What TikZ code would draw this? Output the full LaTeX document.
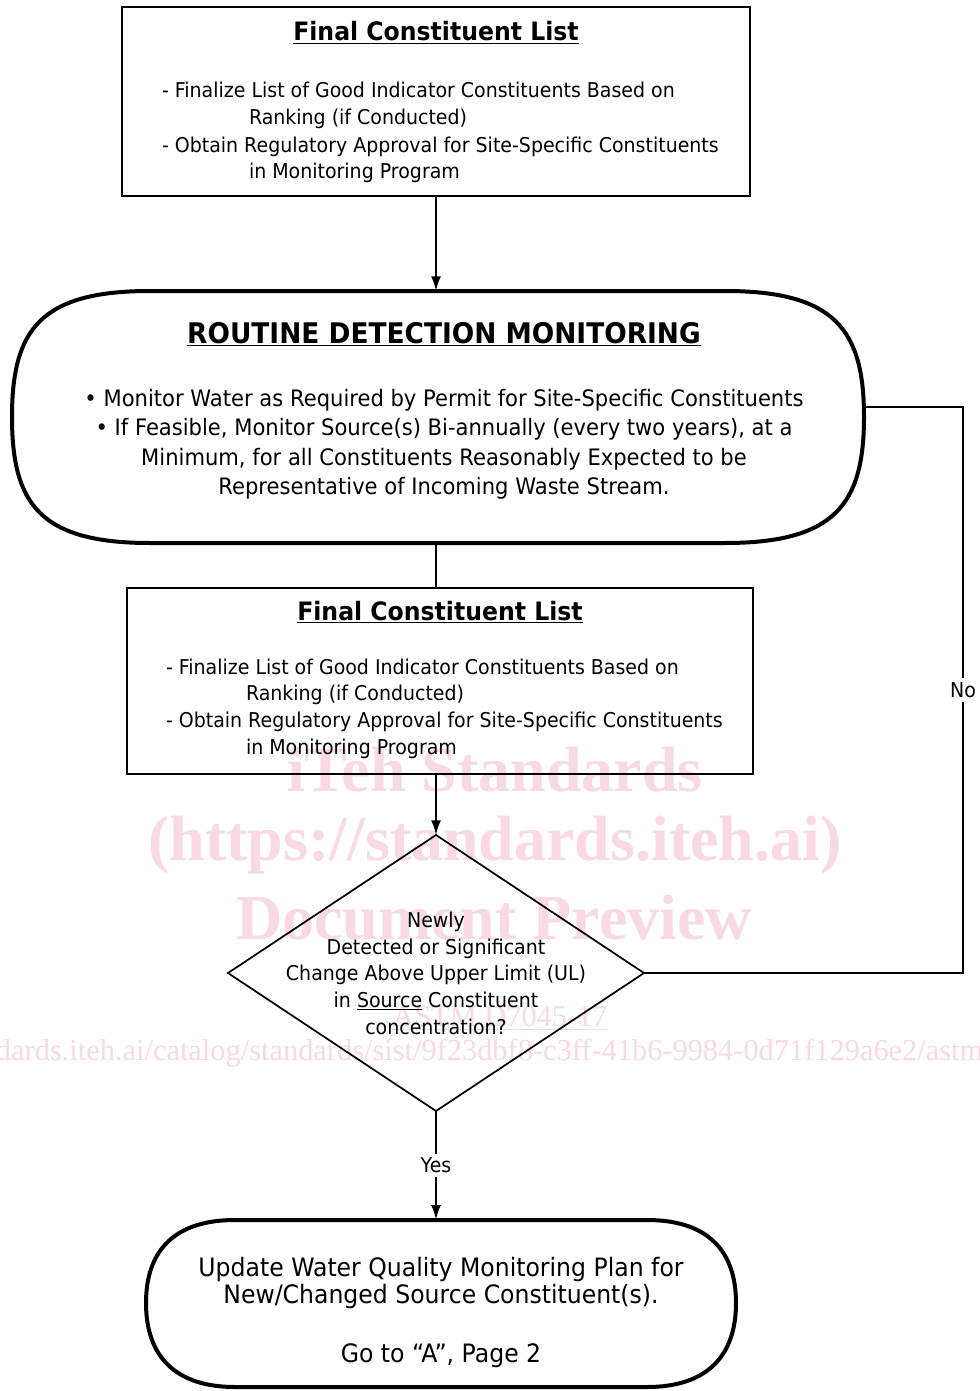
\documentclass[tikz,border=0pt]{standalone}
\usepackage{fontspec}
\setmainfont{DejaVu Sans}[FakeStretch=0.93]
\newfontfamily\wmfont{Liberation Serif}
\usetikzlibrary{arrows.meta,shapes.geometric}
\definecolor{wm}{RGB}{249,218,226}
\tikzset{
  every node/.style={inner sep=0pt, outer sep=0pt},
  boxframe/.style={draw=black, line width=1.6pt, fill=none},
  term/.style={draw=black, line width=3pt, line join=round},
  conn/.style={draw=black, line width=1.5pt},
  arr/.style={conn, -{Latex[length=11pt,width=7.5pt]}},
  body/.style={font=\fontsize{15.3}{18}\selectfont, anchor=base west},
  ttl/.style={font=\fontsize{19}{22}\selectfont\bfseries, anchor=base},
  bigttl/.style={font=\fontsize{21.3}{24}\selectfont\bfseries, anchor=base},
  big/.style={font=\fontsize{17}{22}\selectfont, anchor=base},
  dtext/.style={font=\fontsize{15.3}{18}\selectfont, anchor=base},
  updtext/.style={font=\fontsize{19}{22}\selectfont, anchor=base},
  lbl/.style={font=\fontsize{15.3}{18}\selectfont, fill=white, inner sep=3pt},
  wmbig/.style={font=\wmfont\bfseries\fontsize{48}{50}\selectfont, text=wm},
  wmsmall/.style={font=\wmfont\fontsize{22.8}{24}\selectfont, text=wm},
}
\begin{document}
\begin{tikzpicture}[x=0.75pt,y=-0.75pt]
\useasboundingbox (0,0) rectangle (979,1391);
\fill[white] (0,0) rectangle (979,1391);

% watermark
\begin{scope}
\clip (0,0) rectangle (979,1391);
\node[wmbig] (wm1) at (495,770) {iTeh Standards};
\node[wmbig] (wm2) at (495,845) {(https://standards.iteh.ai)};
\node[wmbig] (wm3) at (494,918) {Document Preview};
\node[wmsmall] (wm4) at (500,1018) {\underline{ASTM D7045-17}};
\node[wmsmall, anchor=west] (wm5) at (-4,1053) {dards.iteh.ai/catalog/standards/sist/9f23dbf8-c3ff-41b6-9984-0d71f129a6e2/astm};
\end{scope}

% box 1
\node[boxframe, minimum width=471pt, minimum height=141.75pt] (box1) at (436,101.5) {};
\node[ttl] (b1t) at (436,41) {\underline{Final Constituent List}};
\node[body] (b1l1) at (162,98) {- Finalize List of Good Indicator Constituents Based on};
\node[body] (b1l2) at (249,125) {Ranking (if Conducted)};
\node[body] (b1l3) at (162,152) {- Obtain Regulatory Approval for Site-Specific Constituents};
\node[body] (b1l4) at (249,179) {in Monitoring Program};

% routine detection monitoring
\node[minimum width=640.5pt, minimum height=189pt] (rdm) at (438,417) {};
\draw[term] (150,291) -- (725,291) .. controls (835,291) and (864,330) .. (864,417)
  .. controls (864,504) and (835,543) .. (725,543) -- (150,543)
  .. controls (40,543) and (12,504) .. (12,417)
  .. controls (12,330) and (40,291) .. (150,291) -- cycle;
\node[bigttl] (rdmt) at (444,343) {\underline{ROUTINE DETECTION MONITORING}};
\node[big] (rdm1) at (444,406) {• Monitor Water as Required by Permit for Site-Specific Constituents};
\node[big] (rdm2) at (444,435) {• If Feasible, Monitor Source(s) Bi-annually (every two years), at a};
\node[big] (rdm3) at (444,465) {Minimum, for all Constituents Reasonably Expected to be};
\node[big] (rdm4) at (444,494) {Representative of Incoming Waste Stream.};

% box 2
\node[boxframe, minimum width=469.5pt, minimum height=139.5pt] (box2) at (440,681) {};
\node[ttl] (b2t) at (440,620) {\underline{Final Constituent List}};
\node[body] (b2l1) at (166,674) {- Finalize List of Good Indicator Constituents Based on};
\node[body] (b2l2) at (246,700) {Ranking (if Conducted)};
\node[body] (b2l3) at (166,727) {- Obtain Regulatory Approval for Site-Specific Constituents};
\node[body] (b2l4) at (246,754) {in Monitoring Program};

% decision diamond
\node[shape=diamond, draw=black, line width=1.3pt, minimum width=312pt, minimum height=207pt, inner sep=0pt] (dec) at (436,973) {};
\node[dtext] (d1) at (436,927) {Newly};
\node[dtext] (d2) at (436,954) {Detected or Significant};
\node[dtext] (d3) at (436,980) {Change Above Upper Limit (UL)};
\node[dtext] (d4) at (436,1007) {in \underline{Source} Constituent};
\node[dtext] (d5) at (436,1034) {concentration?};

% update terminator
\node[minimum width=442.5pt, minimum height=125pt] (upd) at (441,1303) {};
\draw[term] (235,1220) -- (647,1220) .. controls (707,1220) and (736,1250) .. (736,1303)
  .. controls (736,1356) and (707,1387) .. (647,1387) -- (235,1387)
  .. controls (175,1387) and (146,1356) .. (146,1303)
  .. controls (146,1250) and (175,1220) .. (235,1220) -- cycle;
\node[updtext] (u1) at (441,1276) {Update Water Quality Monitoring Plan for};
\node[updtext] (u2) at (441,1303) {New/Changed Source Constituent(s).};
\node[updtext] (u3) at (441,1362) {Go to “A”, Page 2};

% connectors
\draw[arr] (box1.south) -- (box1.south |- rdm.north);
\draw[conn] (rdm.south -| dec.north) -- (box2.north -| dec.north);
\draw[arr] (box2.south -| dec.north) -- (dec.north);
\coordinate (nocorner) at (963,973);
\coordinate (notop) at (963,407);
\coordinate (noend) at (865,407);
\draw[conn] (dec.east) -- (nocorner) -- node[lbl, pos=0.5] (nolbl) {No} (notop) -- (noend);
\draw[arr] (dec.south) -- node[lbl, pos=0.5] (yeslbl) {Yes} (dec.south |- upd.north);
\end{tikzpicture}
\end{document}
